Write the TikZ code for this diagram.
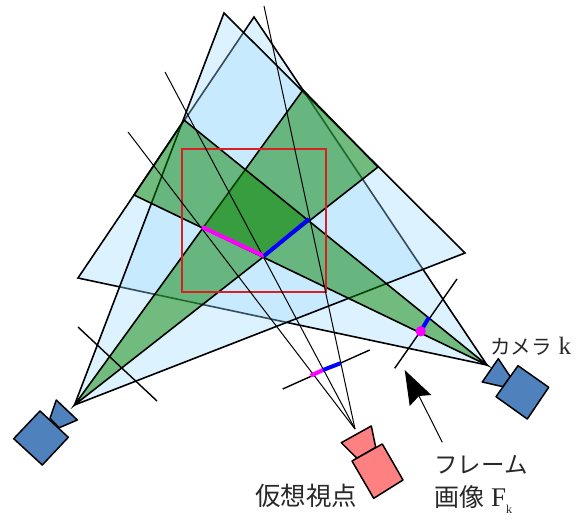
\documentclass[tikz,border=0pt]{standalone}
\usepackage{fontspec}
\setmainfont{Liberation Serif}
\newfontfamily\cjk{Noto Sans CJK JP}
\definecolor{frustum}{RGB}{159,218,255}
\definecolor{band}{RGB}{8,132,0}
\definecolor{camblue}{RGB}{79,129,189}
\definecolor{campink}{RGB}{255,128,128}
\definecolor{boxred}{RGB}{216,32,32}
\definecolor{segm}{RGB}{255,0,255}
\definecolor{segb}{RGB}{0,0,255}
\definecolor{labelink}{RGB}{40,40,40}
\tikzset{
  frustumfill/.style={fill=frustum,fill opacity=.35,draw=black,draw opacity=1,line width=1.6pt,line join=miter},
  bandfill/.style={fill=band,fill opacity=.5,draw=black,line width=1.6pt},
  ray/.style={draw=black,line width=1pt},
  plane/.style={draw=black,line width=1.4pt},
  thickm/.style={draw=segm,line width=4pt},
  thickb/.style={draw=segb,line width=4pt},
  cam/.style={draw=black,line width=1.5pt,line join=round},
  lab/.style={inner sep=0pt,anchor=base west,text=labelink}
}
\begin{document}
\begin{tikzpicture}[x=1pt,y=-1pt]
\useasboundingbox (0,0) rectangle (583,521);
\coordinate (L) at (74.5,405);
\coordinate (R) at (487,365);
\coordinate (A) at (224,13);
\coordinate (B) at (254,17);
\coordinate (C) at (465,253);
\coordinate (D) at (78,278);
\coordinate (g1) at (303,90);
\coordinate (g2) at (378,167);
\coordinate (g3) at (184,120);
\coordinate (g4) at (134,195);
\coordinate (P) at (202,227);
\coordinate (Q) at (264,256);
\coordinate (S) at (309,219);
\coordinate (V) at (355,429);
% frustums
\path[frustumfill] (R) -- (B) -- (D) -- cycle;
\path[frustumfill] (L) -- (A) -- (C) -- cycle;
% green bands
\path[bandfill] (L) -- (g1) -- (g2) -- cycle;
\path[bandfill] (R) -- (g3) -- (g4) -- cycle;
% red box
\draw[boxred,line width=2pt] (182,149) rectangle (326,292);
% thin rays
\coordinate (r1) at (264,6);
\coordinate (r2) at (165,72);
\coordinate (r3) at (128,132);
\draw[ray] (V) -- (r1);
\draw[ray] (V) -- (r2);
\draw[ray] (V) -- (r3);
% image planes
\coordinate (p1a) at (78,327);
\coordinate (p1b) at (157,401);
\coordinate (p2a) at (282.7,389);
\coordinate (p2b) at (369.7,350);
\coordinate (p3a) at (394.7,368.3);
\coordinate (p3b) at (457,279);
\draw[plane] (p1a) -- (p1b);
\draw[plane] (p2a) -- (p2b);
\draw[plane] (p3a) -- (p3b);
% projected segments
\draw[thickm] (P) -- (Q);
\draw[thickb] (Q) -- (S);
\coordinate (m1) at (310.7,375.7);
\coordinate (m2) at (323,370);
\coordinate (m3) at (340.3,363.3);
\draw[thickm] (m1) -- (m2);
\draw[thickb] (m2) -- (m3);
\coordinate (dot) at (420.7,331.3);
\coordinate (dotb) at (429,317.3);
\draw[thickb] (dot) -- (dotb);
\fill[segm] (dot) circle (5.2);
% cameras
\draw[cam,fill=camblue] (56.3,400) -- (77.3,420) -- (59.3,427.7) -- (50,418.3) -- cycle;
\draw[cam,fill=camblue] (40,411) -- (68.3,437.3) -- (42.3,465) -- (13.7,438.7) -- cycle;
\draw[cam,fill=camblue] (498.3,358.7) -- (510.3,376.7) -- (503,386.7) -- (482.3,382) -- cycle;
\draw[cam,fill=camblue] (518,365.7) -- (548.7,387.3) -- (527.3,419) -- (496,396.7) -- cycle;
\draw[cam,fill=campink] (371.3,426) -- (375.7,447.3) -- (357,458.3) -- (341.3,442.7) -- cycle;
\draw[cam,fill=campink] (382.3,444) -- (403,480) -- (373.7,498.3) -- (352,461) -- cycle;
% arrow
\coordinate (tip) at (404.7,370);
\coordinate (notch) at (419,396);
\coordinate (tail) at (442.3,442.3);
\draw[ray] (notch) -- (tail);
\fill[black] (tip) -- (431.3,395) -- (notch) -- (409.7,406) -- cycle;
% labels
\node[lab,font=\fontsize{20.5}{22}\selectfont] (camk) at (490,354) {{\cjk カメラ}\hspace{7pt}{\fontsize{25}{25}\selectfont k}};
\node[lab,font=\fontsize{25.5}{28}\selectfont] (virt) at (255,505) {\cjk 仮想視点};
\node[lab,font=\fontsize{23.5}{26}\selectfont] (fr1) at (434,473) {\cjk フレーム};
\node[lab,font=\fontsize{25}{28}\selectfont] (fr2) at (434,506.5) {{\cjk 画像}\hspace{7pt}{\fontsize{27}{28}\selectfont F}\raisebox{-7pt}{\fontsize{12}{12}\selectfont k}};
\end{tikzpicture}
\end{document}
